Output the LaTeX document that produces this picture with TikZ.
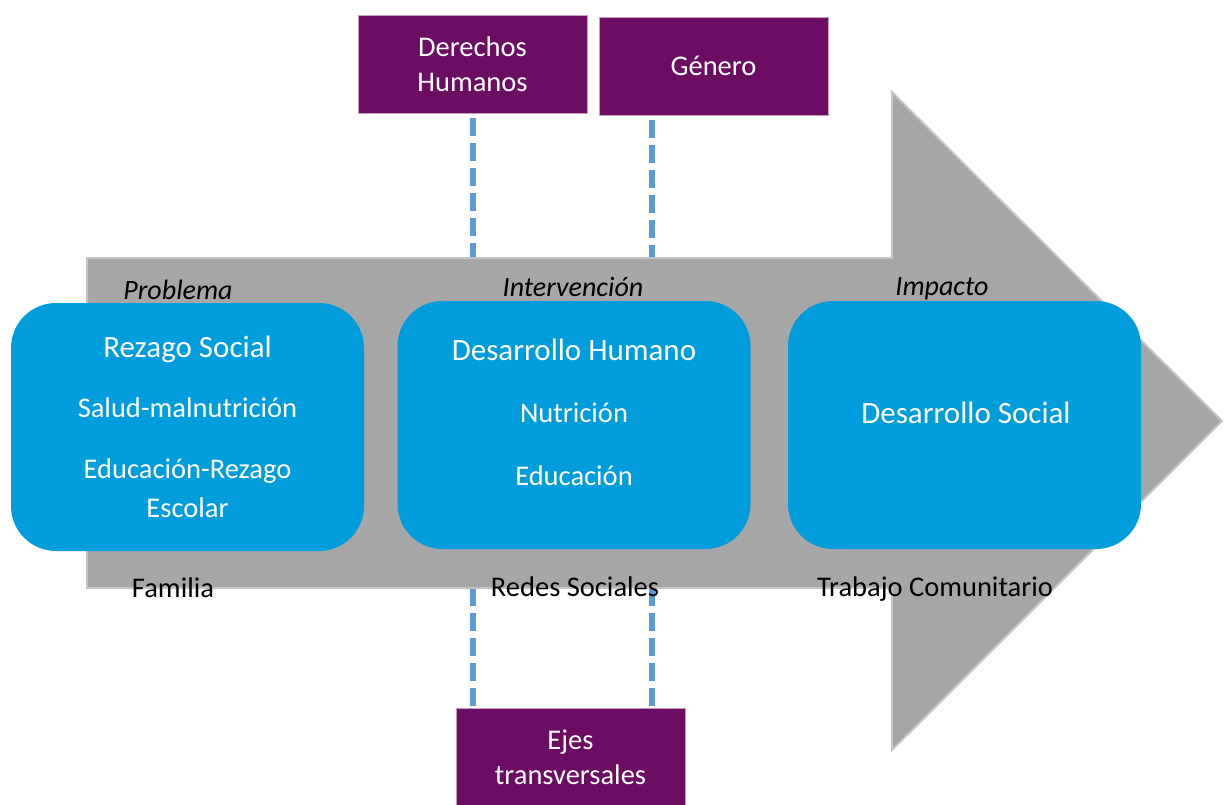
\documentclass[tikz,border=0pt]{standalone}
\usepackage{fontspec}
\setmainfont{Carlito}
\usetikzlibrary{positioning}
\definecolor{rzblue}{RGB}{0,157,220}
\definecolor{rzpurple}{RGB}{109,12,99}
\definecolor{rzgray}{RGB}{166,166,166}
\definecolor{rzedge}{RGB}{196,196,196}
\definecolor{rzdash}{RGB}{91,155,213}
\tikzstyle{stage} = [rectangle, rounded corners=45pt, minimum width=353pt, minimum height=248pt, fill=rzblue, inner sep=0pt]
\tikzstyle{stagetitle} = [text=white, font=\fontsize{31}{37}\selectfont, text height=0.68em, text depth=0.2em]
\tikzstyle{stageitem} = [text=white, align=center, font=\fontsize{28.5}{39}\selectfont]
\tikzstyle{axisbox} = [rectangle, minimum width=229pt, minimum height=98pt, fill=rzpurple, draw=rzpurple!40!white, line width=0.8pt, text=white, align=center, font=\fontsize{28.5}{35}\selectfont]
\tikzstyle{tag} = [font=\fontsize{28}{33}\selectfont\itshape, text=black, text height=0.68em, text depth=0.2em]
\tikzstyle{base} = [font=\fontsize{28.5}{33}\selectfont, text=black, text height=0.68em, text depth=0.2em]
\tikzstyle{axisline} = [line width=5.5pt, color=rzdash, dash pattern=on 18pt off 7pt]

\begin{document}
\begin{tikzpicture}[x=1pt, y=-1pt]
\useasboundingbox (0,0) rectangle (1225,804);

% Axis boxes
\node (derechos) [axisbox] at (472.5,64) {Derechos\\Humanos};
\node (genero) [axisbox] at (713.5,66) {Género};
\node (ejes) [axisbox] at (570.5,757) {Ejes\\transversales};

% Arrow edge points
\coordinate (up1) at (473,258);
\coordinate (up2) at (652,258);
\coordinate (lo1) at (473,588);
\coordinate (lo2) at (652,588);

% Dashed axes
\draw[axisline] ([yshift=-5pt]derechos.south -| up1) -- (up1);
\draw[axisline] ([yshift=-5pt]genero.south -| up2) -- (up2);
\draw[axisline] (lo1) -- (ejes.north -| lo1);
\draw[axisline] (lo2) -- (ejes.north -| lo2);

% Big arrow
\filldraw[fill=rzgray, draw=rzedge, line width=2pt]
  (87,258) -- (892,258) -- (892,92) -- (1222,421) -- (892,750) -- (892,588) -- (87,588) -- cycle;

% Stage boxes
\node (rezago) [stage] at (187.5,427) {};
\node (humano) [stage] at (574,425) {};
\node (social) [stage] at (964.5,425) {};

% Stage texts
\node (rezagotitle) [stagetitle] at (187.5,355) {Rezago Social};
\node (salud) [stageitem] at (187.5,408) {Salud-malnutrición};
\node (educrezago) [stageitem] at (187.5,488) {Educación-Rezago\\Escolar};
\node (humanotitle) [stagetitle] at (574,358) {Desarrollo Humano};
\node (nutricion) [stageitem] at (574,413) {Nutrición};
\node (educacion) [stageitem] at (574,476) {Educación};
\node (socialtitle) [stagetitle] at (966,421) {Desarrollo Social};

% Stage tags
\node (problema) [tag] at (178,297) {Problema};
\node (intervencion) [tag] at (573,294) {Intervención};
\node (impacto) [tag] at (942,293) {Impacto};

% Base labels
\node (familia) [base] at (173,595) {Familia};
\node (redes) [base] at (575,594) {Redes Sociales};
\node (trabajo) [base] at (935,594) {Trabajo Comunitario};
\end{tikzpicture}
\end{document}
